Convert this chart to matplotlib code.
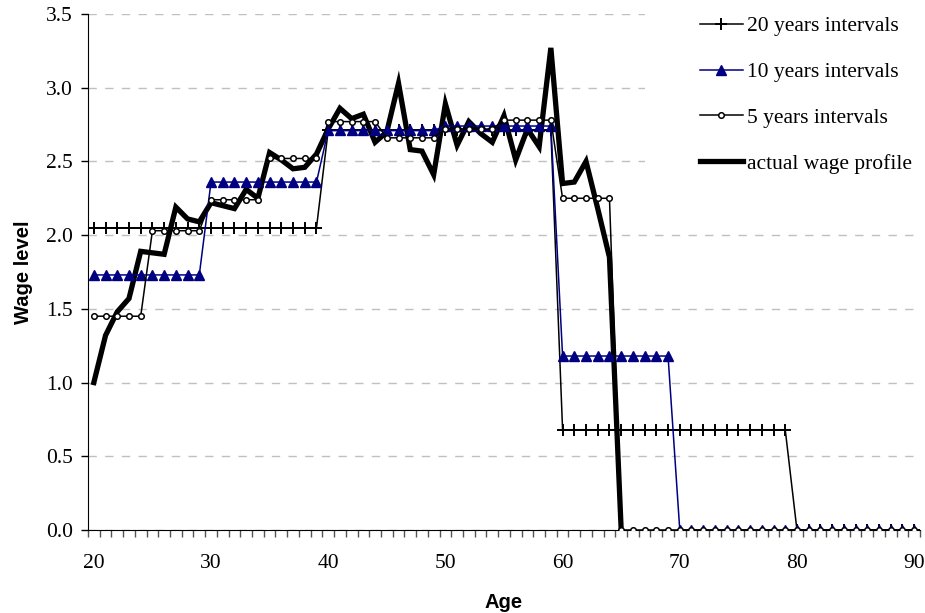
import numpy as np
import matplotlib
matplotlib.use("Agg")
import matplotlib.pyplot as plt
from matplotlib.patches import Rectangle

# ages 20..90
ages = np.arange(20, 91)

# step profiles (value per interval)
int20_edges = [20, 40, 60, 80, 91]
int20_vals = [2.05, 2.71, 0.68, 0.0]

int10_edges = [20, 30, 40, 50, 60, 70, 91]
int10_vals = [1.73, 2.36, 2.71, 2.74, 1.18, 0.0]

int5_edges = [20, 25, 30, 35, 40, 45, 50, 55, 60, 65, 91]
int5_vals = [1.45, 2.03, 2.24, 2.52, 2.77, 2.66, 2.72, 2.78, 2.25, 0.0]

# actual wage profile, ages 20..65
actual_ages = np.arange(20, 66)
actual_vals = [1.00, 1.32, 1.48, 1.57, 1.89, 1.88, 1.87, 2.19, 2.11, 2.09,
               2.22, 2.20, 2.18, 2.31, 2.25, 2.56, 2.51, 2.45, 2.46, 2.55,
               2.72, 2.86, 2.79, 2.82, 2.63, 2.70, 3.03, 2.58, 2.57, 2.41,
               2.89, 2.61, 2.77, 2.69, 2.63, 2.81, 2.51, 2.72, 2.60, 3.27,
               2.35, 2.36, 2.50, 2.18, 1.85, 0.00]

series_labels = ["20 years intervals", "10 years intervals",
                 "5 years intervals", "actual wage profile"]


def expand(edges, vals):
    out = np.zeros(len(ages))
    for lo, hi, v in zip(edges[:-1], edges[1:], vals):
        out[(ages >= lo) & (ages < hi)] = v
    return out


y20 = expand(int20_edges, int20_vals)
y10 = expand(int10_edges, int10_vals)
y5 = expand(int5_edges, int5_vals)

serif = "Liberation Serif"
sans = "Liberation Sans"

fig = plt.figure(figsize=(9.25, 6.13), dpi=100)
ax = fig.add_axes([0.0951, 0.1354, 0.8995, 0.8418])

ax.plot(actual_ages, actual_vals, color="black", lw=3.8, zorder=2,
        solid_joinstyle="miter", label=series_labels[3])
ax.plot(ages, y20, color="black", lw=1.1, marker="+", ms=8, mew=1.4,
        zorder=3, label=series_labels[0])
ax.plot(ages, y10, color="#000080", lw=1.1, marker="^", ms=6.5,
        mfc="#000080", mec="#000080", zorder=3, label=series_labels[1])
ax.plot(ages, y5, color="black", lw=1.1, marker="o", ms=4, mfc="white",
        mec="black", mew=1.1, zorder=4, label=series_labels[2])

ax.set_xlim(19.5, 90.5)
ax.set_ylim(0, 3.5)

ax.set_yticks(np.arange(0, 3.51, 0.5))
ax.set_yticklabels([f"{v:.1f}" for v in np.arange(0, 3.51, 0.5)],
                   family=serif, fontsize=15.5)
ax.set_xticks(np.arange(20, 91, 10))
ax.set_xticklabels([str(v) for v in range(20, 91, 10)],
                   family=serif, fontsize=15.5)
ax.set_xticks(np.arange(19.5, 91, 1), minor=True)
ax.tick_params(axis="x", which="major", length=0, pad=17)
ax.tick_params(axis="x", which="minor", length=5, width=1, color="#555555")
ax.tick_params(axis="y", which="major", length=5, width=1, pad=6)

ax.yaxis.grid(True, color="#c0c0c0", linestyle=(0, (6, 6)), lw=1)
ax.set_axisbelow(True)
for s in ["top", "right"]:
    ax.spines[s].set_visible(False)

# white legend area over the grid
ax.add_patch(Rectangle((0.67, 0.65), 0.33, 0.36, transform=ax.transAxes,
                       facecolor="white", edgecolor="none", zorder=1,
                       clip_on=False))

ax.set_xlabel("Age", family=sans, fontweight="bold", fontsize=14.5, labelpad=15)
ax.set_ylabel("Wage level", family=sans, fontweight="bold", fontsize=14.5,
              labelpad=9)

h, l = ax.get_legend_handles_labels()
order = [1, 2, 3, 0]
ax.legend([h[i] for i in order], [l[i] for i in order], loc="upper left",
          bbox_to_anchor=(0.725, 1.012), frameon=False,
          prop={"family": serif, "size": 15.5}, handlelength=2.0,
          handletextpad=0.2, labelspacing=1.19, borderaxespad=0.0)

fig.savefig("out.png", dpi=100)
